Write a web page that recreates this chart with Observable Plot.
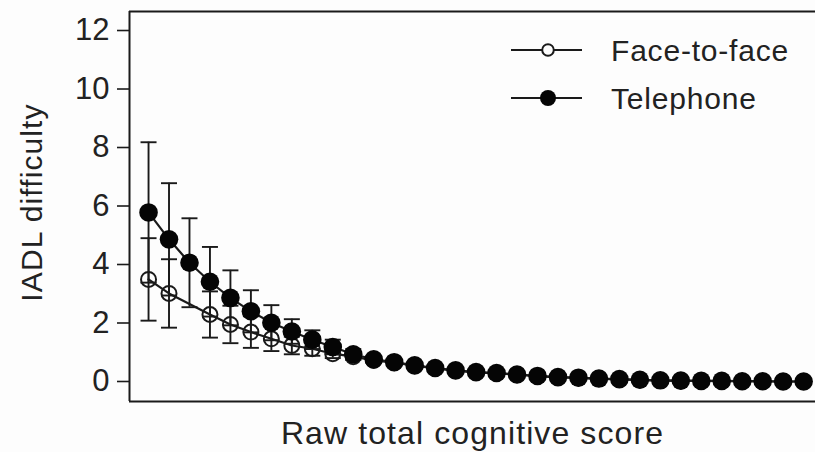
<!DOCTYPE html>
<html>
<head>
<meta charset="utf-8">
<script src="https://cdn.jsdelivr.net/npm/d3@7"></script>
<script src="https://cdn.jsdelivr.net/npm/@observablehq/plot@0.6"></script>
<style>
  html, body { margin: 0; padding: 0; background: #fdfdfd; }
  #wrap { position: relative; width: 815px; height: 452px; font-family: "Liberation Sans", Arial, sans-serif; color: #222; }
  #legend { position: absolute; left: 0; top: 0; }
</style>
</head>
<body>
<div id="wrap"></div>
<script>
// ---- data ----
const score = [0,1,2,3,4,5,6,7,8,9,10,11,12,13,14,15,16,17,18,19,20,21,22,23,24,25,26,27,28,29,30,31,32];
const telephone = [5.78,4.86,4.06,3.41,2.86,2.40,2.01,1.71,1.43,1.18,0.93,0.76,0.66,0.55,0.46,0.38,0.32,0.29,0.24,0.19,0.15,0.13,0.10,0.08,0.06,0.04,0.03,0.02,0.02,0.01,0.01,0.00,0.00];
const telephoneErr = [2.40,1.92,1.52,1.19,0.94,0.72,0.60,0.42,0.32,0.25,0.18,0.12,0.08,0.05,0.04];
const faceToFace = [3.49,3.01,null,2.29,1.95,1.69,1.46,1.23,1.12,0.95,0.85,0.72,0.64,0.54,0.45,0.37,0.31,0.28,0.23,0.18,0.14,0.12,0.09,0.07,0.05,0.03,0.02,0.02,0.01,0.01,0.00,0.00,0.00];
const faceToFaceErr = [1.41,1.17,null,0.79,0.64,0.54,0.42,0.30,0.24,0.15,0.11,0.07];
const yTicks = [0,2,4,6,8,10,12];
const seriesNames = ["Face-to-face","Telephone"];
const xLabel = "Raw total cognitive score";
const yLabel = "IADL difficulty";

// ---- tables ----
const tel = score.map((s,i) => ({score: s, value: telephone[i], err: telephoneErr[i]}));
const f2f = score.map((s,i) => ({score: s, value: faceToFace[i], err: faceToFaceErr[i]})).filter(d => d.value != null);
const telErr = tel.filter(d => d.err != null);
const f2fErr = f2f.filter(d => d.err != null);

const capSymbol = {draw(ctx) { ctx.moveTo(-8, 0); ctx.lineTo(8, 0); }};
const ink = "#1a1a1a";
const xDomain = [-0.93, 32.58];
const yDomain = [-0.684, 12.65];

const errMarks = (data) => [
  Plot.ruleX(data, {x: "score", y1: d => d.value - d.err, y2: d => d.value + d.err, stroke: ink, strokeWidth: 1.9}),
  Plot.dot(data, {x: "score", y: d => d.value + d.err, symbol: capSymbol, r: 8, stroke: ink, strokeWidth: 1.9, fill: "none"}),
  Plot.dot(data, {x: "score", y: d => d.value - d.err, symbol: capSymbol, r: 8, stroke: ink, strokeWidth: 1.9, fill: "none"})
];

const chart = Plot.plot({
  width: 815,
  height: 452,
  marginLeft: 129,
  marginRight: 0,
  marginTop: 11,
  marginBottom: 51,
  style: {background: "transparent", fontFamily: "Liberation Sans, Arial, sans-serif", color: "#222"},
  x: {domain: xDomain, axis: null},
  y: {domain: yDomain, axis: null},
  marks: [
    // frame: left, top, bottom
    Plot.ruleX([xDomain[0]], {stroke: ink, strokeWidth: 2}),
    Plot.ruleY([yDomain[0], yDomain[1]], {stroke: ink, strokeWidth: 2}),
    // y axis
    Plot.axisY(yTicks, {tickSize: 12, tickPadding: 8, fontSize: 31, stroke: ink, strokeWidth: 1.6, fill: "#222", label: null}),
    // face-to-face
    ...errMarks(f2fErr),
    Plot.line(f2f, {x: "score", y: "value", stroke: ink, strokeWidth: 2.2}),
    Plot.dot(f2f, {x: "score", y: "value", r: 7.5, stroke: ink, strokeWidth: 2, fill: "none"}),
    // telephone
    ...errMarks(telErr),
    Plot.line(tel, {x: "score", y: "value", stroke: ink, strokeWidth: 2.2}),
    Plot.dot(tel, {x: "score", y: "value", r: 9.3, fill: "#050505", stroke: "none"}),
    // axis titles
    Plot.text([xLabel], {frameAnchor: "bottom", text: d => d, dy: 32, fontSize: 32, fill: "#222", lineAnchor: "middle", textAnchor: "middle"}),
    Plot.text([yLabel], {frameAnchor: "left", text: d => d, dx: -97, dy: -4, rotate: -90, fontSize: 30, fill: "#222", lineAnchor: "middle", textAnchor: "middle"})
  ]
});

const wrap = document.getElementById("wrap");
wrap.appendChild(chart);
// slight widening of the axis titles, as in the reference
d3.select(chart).selectAll("g[aria-label='text'] text").style("letter-spacing", "1.1px");

// ---- legend (overlay in the upper right) ----
const legend = d3.select(wrap).append("svg")
  .attr("id", "legend").attr("width", 815).attr("height", 452)
  .style("font-family", "Liberation Sans, Arial, sans-serif");
seriesNames.forEach((name, i) => {
  const g = legend.append("g").attr("transform", `translate(511, ${50 + i * 48})`);
  g.append("line").attr("x1", 0).attr("x2", 71).attr("y1", 0).attr("y2", 0).attr("stroke", ink).attr("stroke-width", 2.2);
  if (i === 0) {
    g.append("circle").attr("cx", 37).attr("cy", 0).attr("r", 5.8).attr("fill", "#fdfdfd").attr("stroke", ink).attr("stroke-width", 2);
  } else {
    g.append("circle").attr("cx", 37).attr("cy", 0).attr("r", 8).attr("fill", "#050505");
  }
  g.append("text").attr("x", 100).attr("y", 0).attr("dy", "0.36em").attr("font-size", 30).attr("fill", "#222")
    .style("letter-spacing", "0.8px").text(name);
});
</script>
</body>
</html>
